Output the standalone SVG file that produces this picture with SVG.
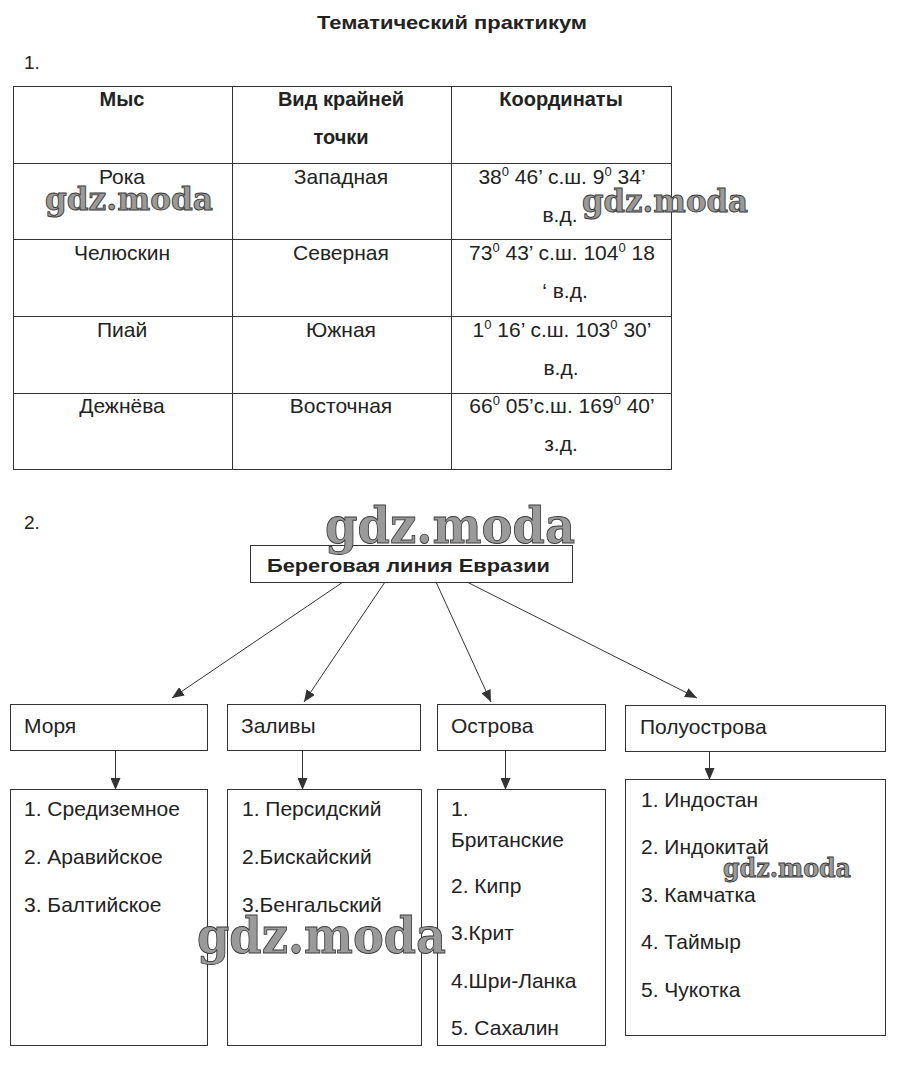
<svg xmlns="http://www.w3.org/2000/svg" width="898" height="1092" viewBox="0 0 898 1092">
<defs>
<style>
.t{font-family:"Liberation Sans",Arial,sans-serif;fill:#222;}
.b{font-weight:bold;}
.h{font-size:20px;}
.d{font-size:21px;}
.c{text-anchor:middle;}
.ln{stroke:#333;stroke-width:1;fill:none;}
.box{fill:#fff;stroke:#333;stroke-width:1;}
.wm{font-family:"DejaVu Serif","Liberation Serif",serif;font-weight:bold;fill:#9a9a9a;stroke:#3a3a3a;stroke-width:0.9;}
.sup{font-size:13px;}
</style>
<marker id="ah" viewBox="0 0 12 10" refX="12" refY="5" markerWidth="12" markerHeight="10" markerUnits="userSpaceOnUse" orient="auto">
<path d="M0,0 L12,5 L0,10 Z" fill="#333"/>
</marker>
</defs>
<rect width="898" height="1092" fill="#fff"/>

<text class="t b" x="452" y="29" font-size="19" text-anchor="middle" textLength="270" lengthAdjust="spacingAndGlyphs">Тематический практикум</text>
<text class="t" x="24" y="69" font-size="19">1.</text>

<g id="table">
<rect class="ln" x="13.5" y="86.5" width="658" height="383"/>
<line class="ln" x1="232.5" y1="86" x2="232.5" y2="470"/>
<line class="ln" x1="451.5" y1="86" x2="451.5" y2="470"/>
<line class="ln" x1="13" y1="163.5" x2="672" y2="163.5"/>
<line class="ln" x1="13" y1="239.5" x2="672" y2="239.5"/>
<line class="ln" x1="13" y1="316.5" x2="672" y2="316.5"/>
<line class="ln" x1="13" y1="393.5" x2="672" y2="393.5"/>

<text class="t b h c" x="122" y="106">Мыс</text>
<text class="t b h c" x="341" y="106">Вид крайней</text>
<text class="t b h c" x="341" y="144">точки</text>
<text class="t b h c" x="561" y="106">Координаты</text>

<text class="t d c" x="122" y="184">Рока</text>
<text class="t d c" x="341" y="184">Западная</text>
<text class="t d c" x="562" y="184">38<tspan class="sup" dy="-8">0</tspan><tspan dy="8"> 46’ с.ш. 9</tspan><tspan class="sup" dy="-8">0</tspan><tspan dy="8"> 34’</tspan></text>
<text class="t d c" x="560" y="222">в.д.</text>

<text class="t d c" x="122" y="260">Челюскин</text>
<text class="t d c" x="341" y="260">Северная</text>
<text class="t d c" x="562" y="260">73<tspan class="sup" dy="-8">0</tspan><tspan dy="8"> 43’ с.ш. 104</tspan><tspan class="sup" dy="-8">0</tspan><tspan dy="8"> 18</tspan></text>
<text class="t d c" x="565" y="298">‘ в.д.</text>

<text class="t d c" x="122" y="337">Пиай</text>
<text class="t d c" x="341" y="337">Южная</text>
<text class="t d c" x="562" y="337">1<tspan class="sup" dy="-8">0</tspan><tspan dy="8"> 16’ с.ш. 103</tspan><tspan class="sup" dy="-8">0</tspan><tspan dy="8"> 30’</tspan></text>
<text class="t d c" x="561" y="375">в.д.</text>

<text class="t d c" x="122" y="413">Дежнёва</text>
<text class="t d c" x="341" y="413">Восточная</text>
<text class="t d c" x="562" y="413">66<tspan class="sup" dy="-8">0</tspan><tspan dy="8"> 05’с.ш. 169</tspan><tspan class="sup" dy="-8">0</tspan><tspan dy="8"> 40’</tspan></text>
<text class="t d c" x="561" y="451">з.д.</text>
</g>

<text class="t" x="24" y="529" font-size="19">2.</text>

<g id="connectors">
<line class="ln" x1="343" y1="582" x2="172" y2="698" marker-end="url(#ah)"/>
<line class="ln" x1="385" y1="582" x2="304" y2="702" marker-end="url(#ah)"/>
<line class="ln" x1="436" y1="582" x2="491" y2="702" marker-end="url(#ah)"/>
<line class="ln" x1="467" y1="582" x2="697" y2="698" marker-end="url(#ah)"/>
<line class="ln" x1="115.5" y1="751" x2="115.5" y2="790" marker-end="url(#ah)"/>
<line class="ln" x1="302.5" y1="751" x2="302.5" y2="790" marker-end="url(#ah)"/>
<line class="ln" x1="505.5" y1="751" x2="505.5" y2="790" marker-end="url(#ah)"/>
<line class="ln" x1="709.5" y1="752" x2="709.5" y2="780" marker-end="url(#ah)"/>
</g>

<g id="root">
<rect class="box" x="250.5" y="545.5" width="322" height="37"/>
<text class="t b" x="267" y="572" font-size="19" textLength="283" lengthAdjust="spacingAndGlyphs">Береговая линия Евразии</text>
</g>

<g id="morya">
<rect class="box" x="10.5" y="704.5" width="197" height="46"/>
<text class="t d" x="24" y="733">Моря</text>
</g>
<g id="zalivy">
<rect class="box" x="227.5" y="704.5" width="193" height="46"/>
<text class="t d" x="241" y="733">Заливы</text>
</g>
<g id="ostrova">
<rect class="box" x="437.5" y="704.5" width="168" height="46"/>
<text class="t d" x="451" y="733">Острова</text>
</g>
<g id="poluostrova">
<rect class="box" x="625.5" y="705.5" width="260" height="46"/>
<text class="t d" x="640" y="734">Полуострова</text>
</g>

<g id="morya-list">
<rect class="box" x="10.5" y="789.5" width="197" height="256"/>
<text class="t d" x="24" y="816">1. Средиземное</text>
<text class="t d" x="24" y="864">2. Аравийское</text>
<text class="t d" x="24" y="912">3. Балтийское</text>
</g>
<g id="zalivy-list">
<rect class="box" x="227.5" y="789.5" width="194" height="256"/>
<text class="t d" x="242" y="816">1. Персидский</text>
<text class="t d" x="242" y="864">2.Бискайский</text>
<text class="t d" x="242" y="912">3.Бенгальский</text>
</g>
<g id="ostrova-list">
<rect class="box" x="437.5" y="789.5" width="168" height="256"/>
<text class="t d" x="451" y="816">1.</text>
<text class="t d" x="451" y="847">Британские</text>
<text class="t d" x="451" y="893">2. Кипр</text>
<text class="t d" x="451" y="940">3.Крит</text>
<text class="t d" x="451" y="988">4.Шри-Ланка</text>
<text class="t d" x="451" y="1035">5. Сахалин</text>
</g>
<g id="poluostrova-list">
<rect class="box" x="625.5" y="779.5" width="260" height="256"/>
<text class="t d" x="641" y="807">1. Индостан</text>
<text class="t d" x="641" y="854">2. Индокитай</text>
<text class="t d" x="641" y="902">3. Камчатка</text>
<text class="t d" x="641" y="949">4. Таймыр</text>
<text class="t d" x="641" y="997">5. Чукотка</text>
</g>

<g id="watermarks">
<text class="wm" x="45" y="210" font-size="31" textLength="168" lengthAdjust="spacingAndGlyphs">gdz.moda</text>
<text class="wm" x="582" y="212" font-size="31" textLength="166" lengthAdjust="spacingAndGlyphs">gdz.moda</text>
<text class="wm" x="325" y="543" font-size="50" textLength="250" lengthAdjust="spacingAndGlyphs">gdz.moda</text>
<text class="wm" x="197" y="953" font-size="50" textLength="249" lengthAdjust="spacingAndGlyphs">gdz.moda</text>
<text class="wm" x="723" y="877" font-size="26" textLength="128" lengthAdjust="spacingAndGlyphs">gdz.moda</text>
</g>
</svg>
